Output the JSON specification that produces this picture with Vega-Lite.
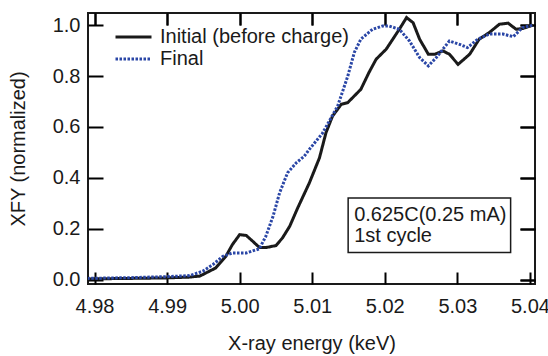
{
  "$schema": "https://vega.github.io/schema/vega-lite/v6.json",
  "autosize": {"type": "none"},
  "width": 447,
  "height": 271,
  "padding": {"left": 88, "top": 13, "right": 13, "bottom": 72},
  "background": "white",
  "config": {
    "font": "Liberation Sans",
    "view": {"stroke": "#1a1a1a", "strokeWidth": 2},
    "axis": {"grid": false, "domain": false, "labelColor": "#1a1a1a", "titleColor": "#1a1a1a", "labelFontSize": 20, "titleFontSize": 20, "titleFontWeight": "normal"}
  },
  "data": {"values": [
    {"series": "Initial (before charge)", "energy": 4.9790, "xfy": 0.003},
    {"series": "Initial (before charge)", "energy": 4.9850, "xfy": 0.005},
    {"series": "Initial (before charge)", "energy": 4.9900, "xfy": 0.007},
    {"series": "Initial (before charge)", "energy": 4.9930, "xfy": 0.010},
    {"series": "Initial (before charge)", "energy": 4.9945, "xfy": 0.014},
    {"series": "Initial (before charge)", "energy": 4.9967, "xfy": 0.046},
    {"series": "Initial (before charge)", "energy": 4.9981, "xfy": 0.092},
    {"series": "Initial (before charge)", "energy": 4.9990, "xfy": 0.138},
    {"series": "Initial (before charge)", "energy": 5.0000, "xfy": 0.177},
    {"series": "Initial (before charge)", "energy": 5.0009, "xfy": 0.174},
    {"series": "Initial (before charge)", "energy": 5.0018, "xfy": 0.151},
    {"series": "Initial (before charge)", "energy": 5.0027, "xfy": 0.127},
    {"series": "Initial (before charge)", "energy": 5.0036, "xfy": 0.126},
    {"series": "Initial (before charge)", "energy": 5.0050, "xfy": 0.134},
    {"series": "Initial (before charge)", "energy": 5.0059, "xfy": 0.164},
    {"series": "Initial (before charge)", "energy": 5.0069, "xfy": 0.210},
    {"series": "Initial (before charge)", "energy": 5.0080, "xfy": 0.282},
    {"series": "Initial (before charge)", "energy": 5.0096, "xfy": 0.380},
    {"series": "Initial (before charge)", "energy": 5.0110, "xfy": 0.479},
    {"series": "Initial (before charge)", "energy": 5.0119, "xfy": 0.578},
    {"series": "Initial (before charge)", "energy": 5.0128, "xfy": 0.643},
    {"series": "Initial (before charge)", "energy": 5.0140, "xfy": 0.689},
    {"series": "Initial (before charge)", "energy": 5.0149, "xfy": 0.696},
    {"series": "Initial (before charge)", "energy": 5.0167, "xfy": 0.748},
    {"series": "Initial (before charge)", "energy": 5.0178, "xfy": 0.813},
    {"series": "Initial (before charge)", "energy": 5.0188, "xfy": 0.866},
    {"series": "Initial (before charge)", "energy": 5.0202, "xfy": 0.906},
    {"series": "Initial (before charge)", "energy": 5.0211, "xfy": 0.945},
    {"series": "Initial (before charge)", "energy": 5.0220, "xfy": 0.984},
    {"series": "Initial (before charge)", "energy": 5.0230, "xfy": 1.030},
    {"series": "Initial (before charge)", "energy": 5.0239, "xfy": 1.010},
    {"series": "Initial (before charge)", "energy": 5.0248, "xfy": 0.945},
    {"series": "Initial (before charge)", "energy": 5.0260, "xfy": 0.886},
    {"series": "Initial (before charge)", "energy": 5.0269, "xfy": 0.886},
    {"series": "Initial (before charge)", "energy": 5.0280, "xfy": 0.899},
    {"series": "Initial (before charge)", "energy": 5.0289, "xfy": 0.886},
    {"series": "Initial (before charge)", "energy": 5.0301, "xfy": 0.846},
    {"series": "Initial (before charge)", "energy": 5.0317, "xfy": 0.886},
    {"series": "Initial (before charge)", "energy": 5.0330, "xfy": 0.945},
    {"series": "Initial (before charge)", "energy": 5.0344, "xfy": 0.971},
    {"series": "Initial (before charge)", "energy": 5.0358, "xfy": 1.004},
    {"series": "Initial (before charge)", "energy": 5.0370, "xfy": 1.008},
    {"series": "Initial (before charge)", "energy": 5.0381, "xfy": 0.984},
    {"series": "Initial (before charge)", "energy": 5.0390, "xfy": 0.987},
    {"series": "Initial (before charge)", "energy": 5.0404, "xfy": 1.000},
    {"series": "Final", "energy": 4.9790, "xfy": 0.005},
    {"series": "Final", "energy": 4.9850, "xfy": 0.008},
    {"series": "Final", "energy": 4.9900, "xfy": 0.012},
    {"series": "Final", "energy": 4.9931, "xfy": 0.016},
    {"series": "Final", "energy": 4.9949, "xfy": 0.033},
    {"series": "Final", "energy": 4.9963, "xfy": 0.059},
    {"series": "Final", "energy": 4.9977, "xfy": 0.092},
    {"series": "Final", "energy": 4.9990, "xfy": 0.105},
    {"series": "Final", "energy": 5.0009, "xfy": 0.105},
    {"series": "Final", "energy": 5.0027, "xfy": 0.121},
    {"series": "Final", "energy": 5.0036, "xfy": 0.170},
    {"series": "Final", "energy": 5.0046, "xfy": 0.249},
    {"series": "Final", "energy": 5.0055, "xfy": 0.341},
    {"series": "Final", "energy": 5.0066, "xfy": 0.420},
    {"series": "Final", "energy": 5.0078, "xfy": 0.459},
    {"series": "Final", "energy": 5.0089, "xfy": 0.485},
    {"series": "Final", "energy": 5.0096, "xfy": 0.512},
    {"series": "Final", "energy": 5.0114, "xfy": 0.575},
    {"series": "Final", "energy": 5.0135, "xfy": 0.682},
    {"series": "Final", "energy": 5.0149, "xfy": 0.800},
    {"series": "Final", "energy": 5.0158, "xfy": 0.893},
    {"series": "Final", "energy": 5.0167, "xfy": 0.945},
    {"series": "Final", "energy": 5.0183, "xfy": 0.984},
    {"series": "Final", "energy": 5.0197, "xfy": 0.997},
    {"series": "Final", "energy": 5.0206, "xfy": 0.997},
    {"series": "Final", "energy": 5.0220, "xfy": 0.984},
    {"series": "Final", "energy": 5.0234, "xfy": 0.938},
    {"series": "Final", "energy": 5.0248, "xfy": 0.873},
    {"series": "Final", "energy": 5.0260, "xfy": 0.840},
    {"series": "Final", "energy": 5.0271, "xfy": 0.873},
    {"series": "Final", "energy": 5.0289, "xfy": 0.938},
    {"series": "Final", "energy": 5.0303, "xfy": 0.925},
    {"series": "Final", "energy": 5.0314, "xfy": 0.912},
    {"series": "Final", "energy": 5.0328, "xfy": 0.945},
    {"series": "Final", "energy": 5.0344, "xfy": 0.965},
    {"series": "Final", "energy": 5.0363, "xfy": 0.965},
    {"series": "Final", "energy": 5.0377, "xfy": 0.955},
    {"series": "Final", "energy": 5.0390, "xfy": 0.991},
    {"series": "Final", "energy": 5.0404, "xfy": 1.000}
  ]},
  "resolve": {"axis": {"x": "independent", "y": "independent"}},
  "layer": [
    {
      "mark": {"type": "line", "strokeWidth": 3, "clip": true},
      "encoding": {
        "x": {"field": "energy", "type": "quantitative",
              "scale": {"domain": [4.9791, 5.0407], "nice": false, "zero": false},
              "axis": {"orient": "bottom", "values": [4.98, 4.99, 5.0, 5.01, 5.02, 5.03, 5.04], "format": ".2f", "offset": -12, "tickSize": 12, "tickColor": "black", "tickWidth": 2, "labelPadding": 12, "title": "X-ray energy (keV)", "titlePadding": 17}},
        "y": {"field": "xfy", "type": "quantitative",
              "scale": {"domain": [-0.017, 1.048], "nice": false, "zero": false},
              "axis": {"orient": "left", "values": [0, 0.2, 0.4, 0.6, 0.8, 1.0], "format": ".1f", "offset": -15, "tickSize": 15, "tickColor": "black", "tickWidth": 2, "labelPadding": 8, "title": "XFY (normalized)", "titlePadding": 24}},
        "color": {"field": "series", "type": "nominal",
                  "scale": {"domain": ["Initial (before charge)", "Final"], "range": ["#1a1a1a", "#2a46a6"]},
                  "legend": {"title": null, "orient": "none", "legendX": 26, "legendY": 14, "symbolType": "stroke", "symbolSize": 1296, "symbolStrokeWidth": 3, "labelFontSize": 20, "labelLimit": 0, "labelColor": "#1a1a1a", "labelOffset": 7, "rowPadding": 2, "clipHeight": 20, "padding": 0}},
        "strokeDash": {"field": "series", "type": "nominal",
                  "scale": {"domain": ["Initial (before charge)", "Final"], "range": [[1, 0], [2.5, 1.5]]},
                  "legend": {"title": null, "orient": "none", "legendX": 26, "legendY": 14, "symbolType": "stroke", "symbolSize": 1296, "symbolStrokeWidth": 3, "labelFontSize": 20, "labelLimit": 0, "labelColor": "#1a1a1a", "labelOffset": 7, "rowPadding": 2, "clipHeight": 20, "padding": 0}}
      }
    },
    {
      "data": {"values": [{"note": "box"}]},
      "mark": {"type": "rect", "fill": "white", "stroke": "#1a1a1a", "strokeWidth": 1.5},
      "encoding": {
        "x": {"datum": 5.01495, "type": "quantitative", "axis": {"orient": "top", "values": [4.98, 4.99, 5.0, 5.01, 5.02, 5.03, 5.04], "labels": false, "title": null, "offset": -12, "tickSize": 12, "tickColor": "black", "tickWidth": 2}},
        "x2": {"datum": 5.03734},
        "y": {"datum": 0.321, "type": "quantitative", "axis": {"orient": "right", "values": [0, 0.2, 0.4, 0.6, 0.8, 1.0], "labels": false, "title": null, "offset": -15, "tickSize": 15, "tickColor": "black", "tickWidth": 2}},
        "y2": {"datum": 0.107}
      }
    },
    {
      "data": {"values": [{"note": "label"}]},
      "mark": {"type": "text", "text": ["0.625C(0.25 mA)", "1st cycle"], "align": "left", "baseline": "alphabetic", "fontSize": 20, "lineHeight": 21, "color": "#1a1a1a"},
      "encoding": {
        "x": {"datum": 5.01578, "type": "quantitative", "axis": {"orient": "top", "values": [4.98, 4.99, 5.0, 5.01, 5.02, 5.03, 5.04], "labels": false, "title": null, "offset": -12, "tickSize": 12, "tickColor": "black", "tickWidth": 2}},
        "y": {"datum": 0.232, "type": "quantitative", "axis": {"orient": "right", "values": [0, 0.2, 0.4, 0.6, 0.8, 1.0], "labels": false, "title": null, "offset": -15, "tickSize": 15, "tickColor": "black", "tickWidth": 2}}
      }
    }
  ]
}
